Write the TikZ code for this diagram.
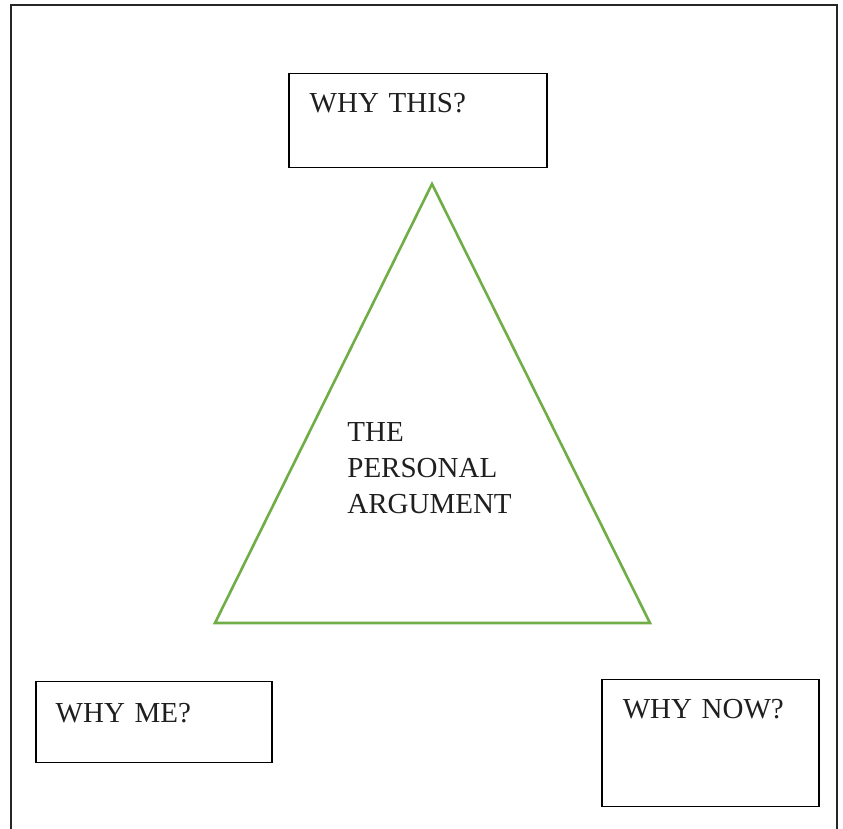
\documentclass[tikz,border=0pt]{standalone}
\usepackage{fontspec}
\setmainfont{Liberation Serif}
\definecolor{trigreen}{RGB}{112,173,71}
\newcommand{\lab}{\fontsize{14.5}{18}\selectfont}

\begin{document}
\begin{tikzpicture}[
  x=0.5pt, y=-0.5pt,
  box/.style={draw, line width=0.75pt, inner sep=0pt, inner xsep=10.5pt, align=left, anchor=north west, font=\lab, text=black!88},
  frame/.style={line width=1pt, draw=black!85},
  tri/.style={draw=trigreen, line width=1.3pt, line join=miter},
  core/.style={inner sep=0pt, align=left, anchor=base west, font=\lab, text=black!88},
]
  \useasboundingbox (0,0) rectangle (843,829);

  % open frame round the page
  \coordinate (fl) at (10.5,829);
  \coordinate (fr) at (836.5,829);
  \draw[frame] (fl) -- (fl |- 0,5.5) -- (fr |- 0,5.5) -- (fr);

  % the three questions
  \node[box, text width=108pt, text height=19.5pt, text depth=27.5pt] (this) at (288,73) {WHY THIS?};
  \node[box, inner xsep=10pt, text width=98pt, text height=20.5pt, text depth=20pt] (me) at (35,681) {WHY ME?};
  \node[box, text width=87.5pt, text height=19.5pt, text depth=44pt] (now) at (601,679) {WHY NOW?};

  % triangle in the middle
  \coordinate (apex) at (432,184);
  \coordinate (left) at (215,623);
  \coordinate (right) at (650,623);
  \draw[tri] (apex) -- (left) -- (right) -- cycle;

  \node[core] (arg) at (347,514) {THE\\PERSONAL\\ARGUMENT};
\end{tikzpicture}
\end{document}
